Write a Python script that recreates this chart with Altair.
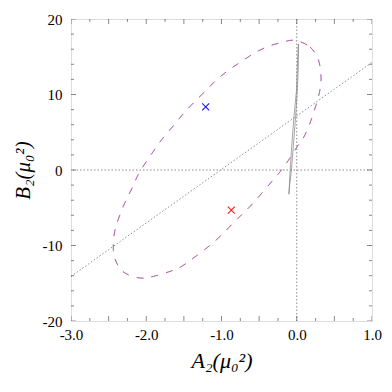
import altair as alt
import pandas as pd

# ---- data ----
ell_x = [-0.023, 0.176, 0.287, 0.322, 0.309, 0.251, 0.176, 0.087, 0.008,
         -0.090, -0.200, -0.311, -0.444, -0.599, -0.732, -0.887, -1.042, -1.197, -1.374,
         -1.529, -1.684, -1.906, -2.083, -2.282, -2.393, -2.437, -2.415, -2.305, -2.194,
         -2.083, -1.875, -1.760, -1.627, -1.507, -1.374, -1.210, -1.064, -0.909,
         -0.745, -0.577, -0.400, -0.200]
ell_y = [17.17, 16.29, 14.61, 12.40, 10.64, 8.43, 6.22, 4.23, 3.13,
         1.59, 0.04, -1.28, -2.83, -4.60, -5.92, -7.47, -9.01, -10.33, -11.66,
         -12.76, -13.43, -14.09, -14.31, -13.65, -12.32, -10.56, -7.91, -4.82, -2.50,
         -0.18, 2.91, 4.45, 6.00, 7.46, 8.87, 10.50, 11.96, 13.20,
         14.30, 15.40, 16.29, 16.90]

loop_x = [0.020, 0.005, -0.003, -0.037, -0.067, -0.090, -0.100, -0.105,
          -0.095, -0.070, -0.046, -0.015, 0.008, 0.020, 0.025]
loop_y = [16.7, 13.0, 10.6, 7.1, 3.1, -0.4, -2.6, -3.2,
          -2.0, 0.0, 3.1, 7.1, 10.6, 13.5, 16.7]

diag_x = [-3.0, 1.0]
diag_y = [-14.1, 14.25]

pts_x = [-1.21, -0.87]
pts_y = [8.35, -5.3]
pts_c = ["blue", "red"]

x_labels = [-3.0, -2.0, -1.0, 0.0, 1.0]
y_labels = [-20, -10, 0, 10, 20]
x_major_ticks = [-3.0, -2.5, -2.0, -1.5, -1.0, -0.5, 0.0, 0.5, 1.0]
x_minor_ticks = [-2.75, -2.25, -1.75, -1.25, -0.75, -0.25, 0.25, 0.75]
y_major_ticks = [-20, -10, 0, 10, 20]
y_minor_ticks = [-18, -16, -14, -12, -8, -6, -4, -2, 2, 4, 6, 8, 12, 14, 16, 18]

FONT = "Liberation Serif"
FRAME = "#555555"
DOT = "#808080"

xs = alt.Scale(domain=[-3.0, 1.0], nice=False, zero=False)
ys = alt.Scale(domain=[-20, 20], nice=False, zero=False)

ell = pd.DataFrame({"x": ell_x, "y": ell_y, "i": range(len(ell_x))})
loop = pd.DataFrame({"x": loop_x, "y": loop_y, "i": range(len(loop_x))})
diag = pd.DataFrame({"x": diag_x, "y": diag_y})
pts = pd.DataFrame({"x": pts_x, "y": pts_y, "c": pts_c})

xaxis = alt.Axis(values=x_labels, ticks=False, domain=False, grid=False, labelFlush=False,
                 labelExpr="datum.value < 0 ? '-' + format(-datum.value, '.1f') : format(datum.value, '.1f')",
                 labelFont=FONT, labelFontSize=15, labelColor="black", labelPadding=6,
                 title="A₂(μ₀²)", titleFont=FONT, titleFontSize=22, titleFontStyle="italic",
                 titleFontWeight="normal", titleColor="black", titlePadding=8)
yaxis = alt.Axis(values=y_labels, ticks=False, domain=False, grid=False, labelFlush=False,
                 labelExpr="datum.value < 0 ? '-' + format(-datum.value, 'd') : format(datum.value, 'd')",
                 labelFont=FONT, labelFontSize=15, labelColor="black", labelPadding=9,
                 title="B₂(μ₀²)", titleFont=FONT, titleFontSize=21, titleFontStyle="italic",
                 titleFontWeight="normal", titleColor="black", titlePadding=9)

base_axes = alt.Chart(diag).mark_line(strokeDash=[1.5, 2], color=DOT, strokeWidth=0.9).encode(
    x=alt.X("x:Q", scale=xs, axis=xaxis),
    y=alt.Y("y:Q", scale=ys, axis=yaxis),
)

hline = alt.Chart(pd.DataFrame({"v": [0]})).mark_rule(strokeDash=[1.5, 2], color=DOT, strokeWidth=0.9).encode(
    y=alt.Y("v:Q", scale=ys))
vline = alt.Chart(pd.DataFrame({"v": [0.0]})).mark_rule(strokeDash=[1.5, 2], color=DOT, strokeWidth=0.9).encode(
    x=alt.X("v:Q", scale=xs))

ell_blue = alt.Chart(ell).mark_line(interpolate="cardinal-closed", strokeDash=[7, 8], color="#4455ff",
                                    strokeWidth=1.0, opacity=0.6).encode(
    x=alt.X("x:Q", scale=xs), y=alt.Y("y:Q", scale=ys), order="i:Q")
ell_red = alt.Chart(ell).mark_line(interpolate="cardinal-closed", strokeDash=[7, 8], color="#ee3355",
                                   strokeWidth=1.0, opacity=0.55).encode(
    x=alt.X("x:Q", scale=xs), y=alt.Y("y:Q", scale=ys), order="i:Q")

loop_line = alt.Chart(loop).mark_line(color="#808080", strokeWidth=0.7).encode(
    x=alt.X("x:Q", scale=xs), y=alt.Y("y:Q", scale=ys), order="i:Q")

marks = alt.Chart(pts).mark_point(shape="M-1,-1L1,1M-1,1L1,-1", size=49, filled=False,
                                  strokeWidth=1.1, opacity=1).encode(
    x=alt.X("x:Q", scale=xs), y=alt.Y("y:Q", scale=ys),
    color=alt.Color("c:N", scale=alt.Scale(domain=["blue", "red"], range=["#1a1aff", "#ff1a1a"]), legend=None))


def xticks(vals, length):
    df = pd.DataFrame({"v": vals})
    out = []
    for edge in (-20, 20):
        out.append(alt.Chart(df).mark_tick(orient="vertical", size=2 * length, thickness=1,
                                           color=FRAME, clip=True).encode(
            x=alt.X("v:Q", scale=xs), y=alt.datum(edge, scale=ys)))
    return out


def yticks(vals, length):
    df = pd.DataFrame({"v": vals})
    out = []
    for edge in (-3.0, 1.0):
        out.append(alt.Chart(df).mark_tick(orient="horizontal", size=2 * length, thickness=1,
                                           color=FRAME, clip=True).encode(
            y=alt.Y("v:Q", scale=ys), x=alt.datum(edge, scale=xs)))
    return out


layers = [base_axes, hline, vline, ell_blue, ell_red, loop_line, marks]
layers += xticks(x_major_ticks, 5) + xticks(x_minor_ticks, 3)
layers += yticks(y_major_ticks, 5) + yticks(y_minor_ticks, 3)

chart = alt.layer(*layers).properties(
    width=301, height=302,
    autosize=alt.AutoSizeParams(type="none"),
    padding={"left": 63, "top": 11, "right": 12, "bottom": 63},
).configure_view(stroke=FRAME, strokeWidth=1).configure(background="white")

chart.save("out.html", embed_options={"renderer": "svg", "actions": False})
